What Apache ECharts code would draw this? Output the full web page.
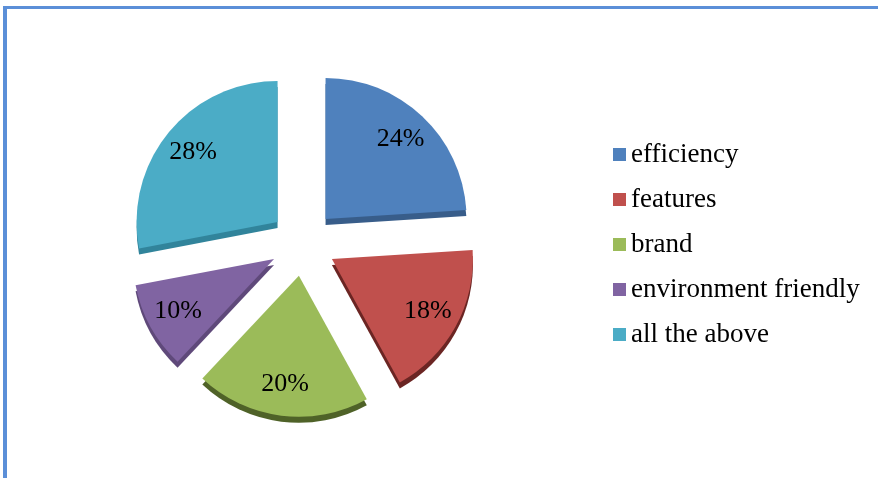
<!DOCTYPE html>
<html>
<head>
<meta charset="utf-8">
<script src="https://cdn.jsdelivr.net/npm/echarts@6/dist/echarts.min.js"></script>
<style>
  html, body { margin: 0; padding: 0; background: #ffffff; }
  #chart { width: 878px; height: 478px; }
</style>
</head>
<body>
<div id="chart"></div>
<script>
// Survey answers (percent of respondents)
const categories = ['efficiency', 'features', 'brand', 'environment friendly', 'all the above'];
const shares = [24, 18, 20, 10, 28];

// Slice face colours and the darker tone used for the extruded edge
const faceColors = ['#4F81BD', '#C0504D', '#9BBB59', '#8064A2', '#4BACC6'];
const edgeColors = ['#385D8A', '#6B2523', '#4F6228', '#5F497A', '#31849B'];

const pieCenter = [303, 243];
const pieRadius = 141;
const explode = 33;

const serifFont = '"Liberation Serif", "Times New Roman", serif';

const sliceData = categories.map((name, i) => ({
  name: name,
  value: shares[i],
  selected: true,
  itemStyle: {
    color: faceColors[i],
    shadowColor: edgeColors[i],
    shadowBlur: 0,
    shadowOffsetX: 0,
    shadowOffsetY: 6
  }
}));

// Transparent ring carrying the percentage labels further out along each slice
const labelData = categories.map((name, i) => ({
  name: name,
  value: shares[i],
  selected: true
}));

const chart = echarts.init(document.getElementById('chart'), null, { renderer: 'canvas' });

chart.setOption({
  animation: false,
  backgroundColor: '#ffffff',
  graphic: [
    { type: 'rect', shape: { x: 3, y: 6, width: 875, height: 3 }, style: { fill: '#5B8FD8' }, silent: true },
    { type: 'rect', shape: { x: 3, y: 6, width: 4, height: 472 }, style: { fill: '#5B8FD8' }, silent: true }
  ],
  legend: {
    orient: 'vertical',
    left: 608,
    top: 136,
    itemWidth: 13,
    itemHeight: 13,
    itemGap: 18,
    icon: 'rect',
    selectedMode: false,
    data: categories,
    textStyle: {
      fontFamily: serifFont,
      fontSize: 27,
      color: '#000000'
    }
  },
  series: [
    {
      type: 'pie',
      center: pieCenter,
      radius: pieRadius,
      startAngle: 90,
      clockwise: true,
      selectedMode: 'multiple',
      selectedOffset: explode,
      avoidLabelOverlap: false,
      label: { show: false },
      labelLine: { show: false },
      emphasis: { disabled: true },
      data: sliceData
    },
    {
      type: 'pie',
      center: pieCenter,
      radius: [72, pieRadius],
      startAngle: 90,
      clockwise: true,
      selectedMode: 'multiple',
      selectedOffset: explode,
      silent: true,
      avoidLabelOverlap: false,
      legendHoverLink: false,
      itemStyle: { color: 'rgba(0,0,0,0)' },
      label: {
        show: true,
        position: 'inside',
        formatter: '{c}%',
        fontFamily: serifFont,
        fontSize: 26,
        color: '#000000'
      },
      labelLine: { show: false },
      emphasis: { disabled: true },
      data: labelData
    }
  ]
});
</script>
</body>
</html>
